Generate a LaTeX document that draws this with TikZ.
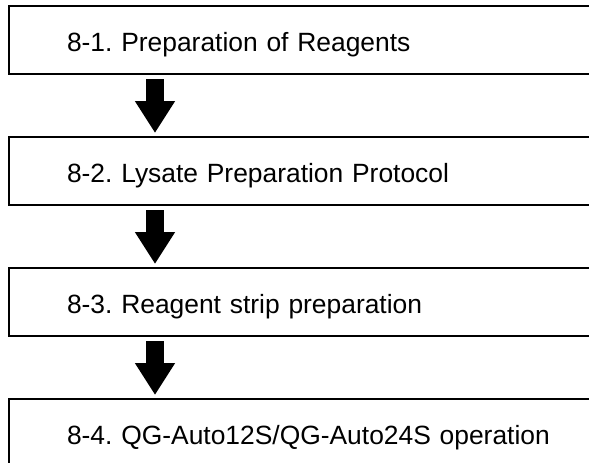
\documentclass[tikz,border=0pt]{standalone}
\usepackage{fontspec}
\setmainfont{Liberation Sans}
\usetikzlibrary{positioning,arrows.meta}
\frenchspacing

\begin{document}
\begin{tikzpicture}[x=1pt, y=1pt, node distance=61pt,
    stepbox/.style={draw, line width=2pt, rectangle, text width=582pt, align=left,
        inner xsep=58pt, minimum height=68pt, text height=22pt, text depth=0pt,
        font=\fontsize{26.4pt}{30pt}\selectfont},
    fatarrow/.style={line width=18pt, -{Triangle[width=38pt, length=32pt]}, shorten <=4pt, shorten >=3pt}]
    \clip (0,0) rectangle (589,-463);
    \useasboundingbox (0,0) rectangle (589,-463);
    % Nodes
    \node[stepbox, anchor=north west] (reag) at (8,-5) {8-1. Preparation of Reagents};
    \node[stepbox, below=of reag.south west, anchor=north west] (lysate) {8-2. Lysate Preparation Protocol};
    \node[stepbox, below=of lysate.south west, anchor=north west] (strip) {8-3. Reagent strip preparation};
    \node[stepbox, below=of strip.south west, anchor=north west] (operation) {8-4. QG-Auto12S/QG-Auto24S operation};
    \coordinate (axis) at (155,0);

    % Edges
    \draw[fatarrow] (reag.south -| axis) -- (lysate.north -| axis);
    \draw[fatarrow] (lysate.south -| axis) -- (strip.north -| axis);
    \draw[fatarrow] (strip.south -| axis) -- (operation.north -| axis);
\end{tikzpicture}
\end{document}
